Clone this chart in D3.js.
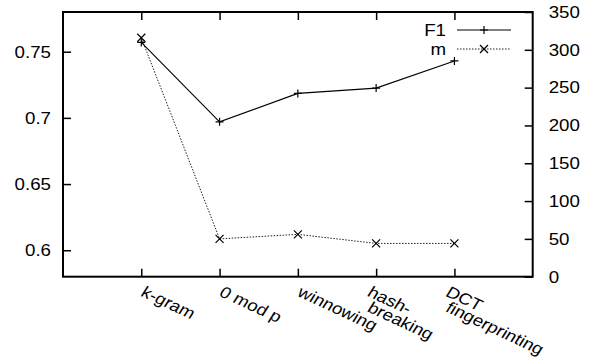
<!DOCTYPE html>
<html>
<head>
<meta charset="utf-8">
<script src="https://cdn.jsdelivr.net/npm/d3@7"></script>
<style>
  html, body { margin: 0; padding: 0; background: #fff; }
  svg { display: block; }
  text { font-family: "Liberation Sans", Arial, Helvetica, sans-serif; font-size: 16px; fill: #000; }
</style>
</head>
<body>
<svg id="chart" width="592" height="362"></svg>
<script>
// ---- data ----
const categories = [["k-gram"], ["0 mod p"], ["winnowing"], ["hash-", "breaking"], ["DCT", "fingerprinting"]];
const f1Values = [0.757, 0.697, 0.7185, 0.7225, 0.743];
const mValues = [316, 50, 56, 44, 44];
const leftTicks = [0.6, 0.65, 0.7, 0.75];
const rightTicks = [0, 50, 100, 150, 200, 250, 300, 350];
const seriesNames = ["F1", "m"];

// ---- layout ----
const L = 63, R = 532.7, T = 12, B = 276.7;
const SX = 1.17; // horizontal text stretch of the original raster
const svg = d3.select("#chart");

const keys = categories.map((c, i) => String(i));
const x = d3.scalePoint().domain(keys).range([L, R]).padding(1);
const yL = d3.scaleLinear().domain([0.58, 0.78]).range([B, T]);
const yR = d3.scaleLinear().domain([0, 350]).range([B, T]);

// axes (ticks only, inward)
const axL = d3.axisLeft(yL).tickValues(leftTicks).tickSizeInner(-8).tickSizeOuter(0).tickFormat("");
const axR = d3.axisRight(yR).tickValues(rightTicks).tickSizeInner(-8).tickSizeOuter(0).tickFormat("");
const axB = d3.axisBottom(x).tickSizeInner(-8).tickSizeOuter(0).tickFormat("");
const axT = d3.axisTop(x).tickSizeInner(-8).tickSizeOuter(0).tickFormat("");

function styleAxis(g) {
  g.select(".domain").remove();
  g.selectAll(".tick line").attr("stroke", "#000").attr("stroke-width", 1.5);
}
svg.append("g").attr("transform", `translate(${L},0)`).call(axL).call(styleAxis);
svg.append("g").attr("transform", `translate(${R},0)`).call(axR).call(styleAxis);
svg.append("g").attr("transform", `translate(0,${B})`).call(axB).call(styleAxis);
svg.append("g").attr("transform", `translate(0,${T})`).call(axT).call(styleAxis);

// frame
svg.append("rect").attr("x", L).attr("y", T).attr("width", R - L).attr("height", B - T)
  .attr("fill", "none").attr("stroke", "#000").attr("stroke-width", 2);

// tick labels (stretched text)
const fmtL = d3.format(".2~f");
svg.append("g").selectAll("text").data(leftTicks).join("text")
  .attr("transform", d => `translate(${L - 12},${yL(d) + 5.8}) scale(${SX},1)`)
  .attr("text-anchor", "end").text(d => fmtL(d));
svg.append("g").selectAll("text").data(rightTicks).join("text")
  .attr("transform", d => `translate(${R + 16},${yR(d) + 5.8}) scale(${SX},1)`)
  .attr("text-anchor", "start").text(d => d);

// category labels, rotated
const catG = svg.append("g");
categories.forEach((lines, i) => {
  const cx = x(String(i));
  const multi = lines.length > 1;
  lines.forEach((line, j) => {
    const px = cx + (multi ? -10 : -1.5);
    const py = 295.5 + j * 15.5;
    catG.append("text")
      .attr("transform", `translate(${px},${py}) scale(${SX},1) rotate(28.5)`)
      .attr("text-anchor", "start").text(line);
  });
});

// markers
function plus(g, cx, cy) {
  g.append("path").attr("d", `M${cx-4},${cy}H${cx+4}M${cx},${cy-4}V${cy+4}`)
    .attr("stroke", "#000").attr("stroke-width", 1.2).attr("fill", "none");
}
function cross(g, cx, cy) {
  g.append("path").attr("d", `M${cx-4},${cy-4}L${cx+4},${cy+4}M${cx-4},${cy+4}L${cx+4},${cy-4}`)
    .attr("stroke", "#000").attr("stroke-width", 1.2).attr("fill", "none");
}

// series
const lineF1 = d3.line().x((d, i) => x(String(i))).y(d => yL(d));
const lineM = d3.line().x((d, i) => x(String(i))).y(d => yR(d));
svg.append("path").attr("d", lineM(mValues)).attr("fill", "none")
  .attr("stroke", "#222").attr("stroke-width", 1).attr("stroke-dasharray", "1.5,1.5");
svg.append("path").attr("d", lineF1(f1Values)).attr("fill", "none")
  .attr("stroke", "#000").attr("stroke-width", 1.1);
const mk = svg.append("g");
f1Values.forEach((v, i) => plus(mk, x(String(i)), yL(v)));
mValues.forEach((v, i) => cross(mk, x(String(i)), yR(v)));

// legend
const legY = [30, 49];
const leg = svg.append("g");
seriesNames.forEach((name, k) => {
  leg.append("text").attr("transform", `translate(446,${legY[k] + 6}) scale(${SX},1)`)
    .attr("text-anchor", "end").text(name);
  leg.append("line").attr("x1", 457).attr("x2", 511).attr("y1", legY[k]).attr("y2", legY[k])
    .attr("stroke", k === 0 ? "#000" : "#222").attr("stroke-width", k === 0 ? 1.1 : 1)
    .attr("stroke-dasharray", k === 0 ? null : "1.5,1.5");
  if (k === 0) plus(leg, 484, legY[k]); else cross(leg, 484, legY[k]);
});
</script>
</body>
</html>
